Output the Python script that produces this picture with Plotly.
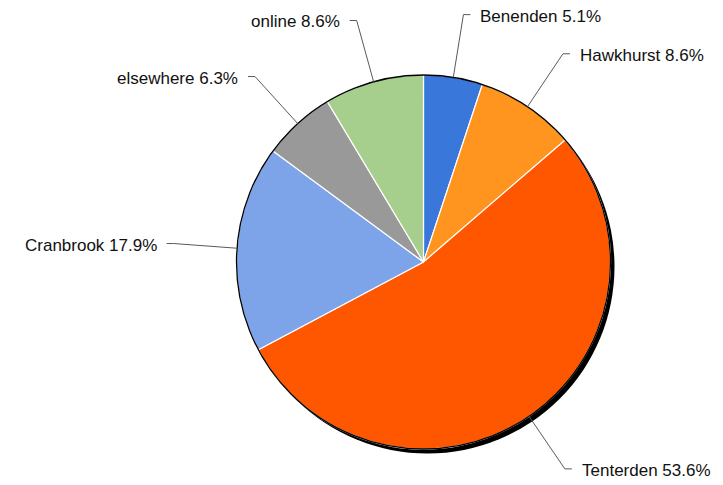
import math
import plotly.graph_objects as go

# ---- data ----
labels = ["Benenden", "Hawkhurst", "Tenterden", "Cranbrook", "elsewhere", "online"]
values = [5.1, 8.6, 53.6, 17.9, 6.3, 8.6]
colors = ["#3a77db", "#ff951f", "#ff5600", "#7da4e8", "#999999", "#a6ce8d"]

W, H = 723, 485
CX, CY, R = 423.5, 262.0, 187.0
SHADOW_DX, SHADOW_DY = 4.0, 4.5


def px(x):
    return x / W


def py(y):
    return 1 - y / H


fig = go.Figure()
fig.add_trace(go.Pie(
    labels=labels,
    values=values,
    sort=False,
    direction="clockwise",
    rotation=0,
    marker=dict(colors=colors, line=dict(color="white", width=1.2)),
    textinfo="none",
    hoverinfo="label+percent",
    showlegend=False,
    domain=dict(x=[px(CX - R), px(CX + R)], y=[py(CY + R), py(CY - R)]),
))

shapes = []
# shadow behind the pie
shapes.append(dict(
    type="circle", xref="paper", yref="paper", layer="below",
    x0=px(CX - R + SHADOW_DX), x1=px(CX + R + SHADOW_DX),
    y0=py(CY + R + SHADOW_DY), y1=py(CY - R + SHADOW_DY),
    fillcolor="black", line=dict(color="black", width=0),
))
# outline
shapes.append(dict(
    type="circle", xref="paper", yref="paper", layer="above",
    x0=px(CX - R), x1=px(CX + R), y0=py(CY + R), y1=py(CY - R),
    line=dict(color="black", width=1.3),
))

annotations = []
total = sum(values)
cum = 0.0
for lab, val in zip(labels, values):
    mid = (cum + val / 2) / total * 2 * math.pi
    cum += val
    s, c = math.sin(mid), math.cos(mid)
    x1, y1 = CX + R * s, CY - R * c
    x2, y2 = CX + 1.34 * R * s, CY - 1.34 * R * c
    side = 1 if s > 0 else -1
    x3 = x2 + side * 7
    shapes.append(dict(type="line", xref="paper", yref="paper", layer="above",
                       x0=px(x1), y0=py(y1), x1=px(x2), y1=py(y2),
                       line=dict(color="#5a5a5a", width=1)))
    shapes.append(dict(type="line", xref="paper", yref="paper", layer="above",
                       x0=px(x2), y0=py(y2), x1=px(x3), y1=py(y2),
                       line=dict(color="#5a5a5a", width=1)))
    annotations.append(dict(
        xref="paper", yref="paper", x=px(x3 + side * 8), y=py(y2 + 1.5),
        text=f"{lab} {val}%", showarrow=False,
        xanchor="left" if side > 0 else "right", yanchor="middle",
        font=dict(family="Liberation Sans, Arial, sans-serif", size=17, color="#111111"),
    ))

fig.update_layout(
    width=W, height=H,
    margin=dict(l=0, r=0, t=0, b=0),
    paper_bgcolor="white", plot_bgcolor="white",
    shapes=shapes, annotations=annotations,
    showlegend=False,
)

fig.write_html(
    "out.html",
    config={"displayModeBar": False},
    post_script="document.body.style.margin='0';document.body.style.overflow='hidden';",
)
